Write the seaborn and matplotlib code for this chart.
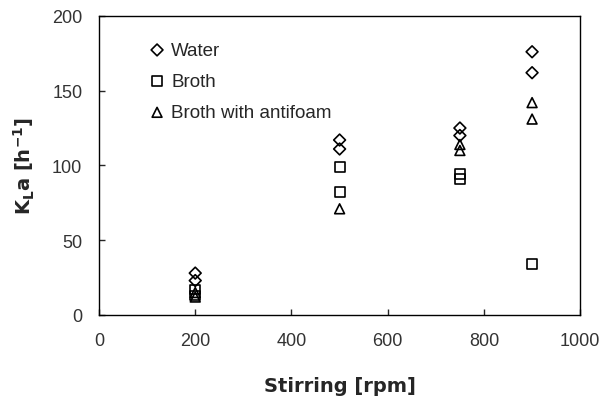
import matplotlib
matplotlib.use("Agg")
import matplotlib.pyplot as plt
import seaborn as sns
import pandas as pd

water_x = [200, 200, 500, 500, 750, 750, 900, 900]
water_y = [28, 23, 117, 111, 125, 120, 176, 162]
broth_x = [200, 200, 500, 500, 750, 750, 900]
broth_y = [17, 13, 99, 82, 94, 91, 34]
anti_x = [200, 200, 500, 750, 750, 900, 900]
anti_y = [15, 12, 71, 114, 110, 142, 131]
series = ["Water", "Broth", "Broth with antifoam"]

df = pd.concat([
    pd.DataFrame({"x": water_x, "y": water_y, "s": series[0]}),
    pd.DataFrame({"x": broth_x, "y": broth_y, "s": series[1]}),
    pd.DataFrame({"x": anti_x, "y": anti_y, "s": series[2]}),
])

sns.set_style("white")
plt.rcParams['font.family'] = ['Liberation Sans', 'DejaVu Sans']

fig = plt.figure(figsize=(6.0, 4.02), dpi=100)
ax = fig.add_axes([0.165, 0.214, 0.802, 0.744])

markers = {"Water": "D", "Broth": "s", "Broth with antifoam": "^"}
sizes = {"Water": 36, "Broth": 50, "Broth with antifoam": 50}
for s in series:
    sub = df[df.s == s]
    sns.scatterplot(data=sub, x="x", y="y", marker=markers[s], s=sizes[s],
                    facecolor="none", edgecolor="black", linewidth=1.2,
                    ax=ax, label=s)

ax.set_xlim(0, 1000)
ax.set_ylim(0, 200)
ax.set_xticks([0, 200, 400, 600, 800, 1000])
ax.set_yticks([0, 50, 100, 150, 200])
ax.tick_params(direction="in", length=4, width=1, labelsize=13,
               labelcolor="#333333", top=False, right=False,
               bottom=True, left=True)
ax.tick_params(axis="x", pad=12)
ax.tick_params(axis="y", pad=12)
for sp in ax.spines.values():
    sp.set_color("black")
    sp.set_linewidth(1)

ax.set_xlabel("Stirring [rpm]", fontsize=14, fontweight="bold",
              family="DejaVu Sans", labelpad=20)
ax.set_ylabel(r"$\mathbf{K_{L}a\ [h^{-1}]}$", fontsize=14, labelpad=11)

leg = ax.legend(loc="upper left", bbox_to_anchor=(0.07, 0.97), frameon=False,
                fontsize=13.5, handletextpad=0.35, labelspacing=0.75,
                handlelength=0.8)
for h in leg.legend_handles:
    h.set_facecolor("none")
    h.set_edgecolor("black")

fig.savefig("out.png", dpi=100)
